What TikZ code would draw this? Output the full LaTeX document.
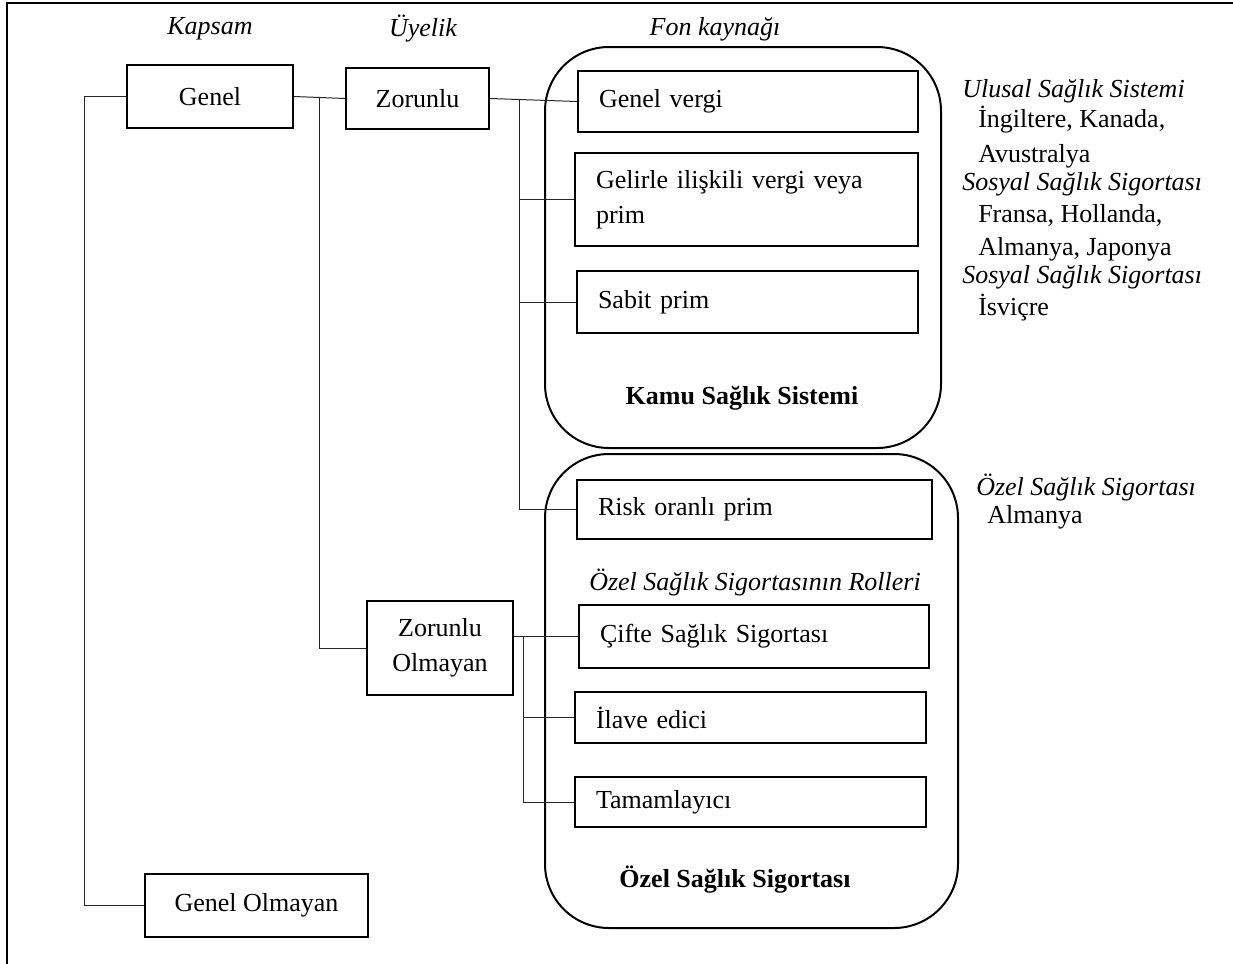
\documentclass[tikz,border=0pt]{standalone}
\usepackage{fontspec}
\setmainfont{Liberation Serif}
\usetikzlibrary{positioning}

\newcommand\yazi{\fontsize{19.5}{23}\selectfont}

\tikzset{
  every node/.style={font=\yazi},
  kutu/.style 2 args={draw, line width=1.5pt, inner sep=0pt, align=center,
    minimum width=#1*0.75pt, minimum height=#2*0.75pt},
  solkutu/.style 2 args={draw, line width=1.5pt, inner ysep=0pt, inner xsep=15.75pt,
    align=left, text width=#1, minimum height=#2*0.75pt},
  baglanti/.style={line width=0.75pt, black!85},
  kabuk/.style={line width=1.5pt, rounded corners=48pt},
  baslik/.style={font=\yazi\itshape},
  sagyazi/.style={anchor=base west, inner sep=0pt},
}

\begin{document}
\begin{tikzpicture}[x=0.75pt,y=0.75pt,yscale=-1,xscale=1]
\useasboundingbox (0,0) rectangle (1233,964);

%Frame
\draw [line width=1.5pt] (7,964) -- (7,3) -- (1233,3) ;

%Rounded groups
\draw [kabuk] (545,47) rectangle (941,448) ;
\draw [kabuk] (545,454) rectangle (958,928) ;

% Text Node
\node [baslik] (kapsam) at (210,29) {Kapsam};
% Text Node
\node [baslik] (uyelik) at (423,29) {Üyelik};
% Text Node
\node [baslik] (fon) at (715,29) {Fon kaynağı};

%Boxes
\node [kutu={166}{63}] (genel) at (210,96.5) {Genel};
\node [kutu={143}{61}] (zorunlu) at (417.5,98.5) {Zorunlu};
\node [kutu={146}{94}] (zolmayan) at (440,648) {Zorunlu\\[3pt]Olmayan};
\node [kutu={223}{63}] (golmayan) at (256.5,905.5) {Genel Olmayan};

\node [solkutu={223.5pt}{61}] (genelvergi) at (748,101.5) {Genel vergi};
\node [solkutu={225.75pt}{93}] (gelirle) at (746.5,199.5) {Gelirle ilişkili vergi veya\\[3pt]prim};
\node [solkutu={224.25pt}{62}] (sabit) at (747.5,302) {Sabit prim};
\node [solkutu={234.75pt}{59}] (risk) at (754.5,509.5) {Risk oranlı prim};
\node [solkutu={231pt}{63}] (cifte) at (754,636.5) {Çifte Sağlık Sigortası};
\node [solkutu={231.75pt}{51}] (ilave) at (750.5,717.5) {İlave edici};
\node [solkutu={231.75pt}{50}] (tamam) at (750.5,802) {Tamamlayıcı};

% Text Node
\node [font=\yazi\bfseries] (kamu) at (742,398) {Kamu Sağlık Sistemi};
% Text Node
\node [font=\yazi\bfseries] (ozel) at (735,880) {Özel Sağlık Sigortası};
% Text Node
\node [baslik] (roller) at (755,582) {Özel Sağlık Sigortasının Rolleri};

%Right column
\node [sagyazi, baslik] (uss) at (962,97) {Ulusal Sağlık Sistemi};
\node [sagyazi] (uss1) at (978,127) {İngiltere, Kanada,};
\node [sagyazi] (uss2) at (978,162) {Avustralya};
\node [sagyazi, baslik] (sss) at (962,190) {Sosyal Sağlık Sigortası};
\node [sagyazi] (sss1) at (978,222) {Fransa, Hollanda,};
\node [sagyazi] (sss2) at (978,255) {Almanya, Japonya};
\node [sagyazi, baslik] (sss3) at (962,283) {Sosyal Sağlık Sigortası};
\node [sagyazi] (sss4) at (978,315) {İsviçre};
\node [sagyazi, baslik] (oss) at (976,495) {Özel Sağlık Sigortası};
\node [sagyazi] (oss1) at (987,523) {Almanya};

%Trunks
\coordinate (kapsamhat) at (84,0);
\coordinate (uyelikhat) at (319,0);
\coordinate (fonhat) at (519,0);
\coordinate (rolhat) at (523,0);

%Connectors
\draw [baglanti] (genel.west) -- (genel.west -| kapsamhat) |- (golmayan.west) ;
\draw [baglanti] (genel.east) -- (zorunlu.west) ;
\draw [baglanti] (genel.east -| uyelikhat) |- (zolmayan.west) ;
\draw [baglanti] (zorunlu.east) -- (genelvergi.west) ;
\draw [baglanti] (zorunlu.east -| fonhat) |- (risk.west) ;
\draw [baglanti] (fonhat |- gelirle.west) -- (gelirle.west) ;
\draw [baglanti] (fonhat |- sabit.west) -- (sabit.west) ;
\draw [baglanti] (cifte.west -| zolmayan.east) -- (cifte.west) ;
\draw [baglanti] (cifte.west -| rolhat) |- (tamam.west) ;
\draw [baglanti] (rolhat |- ilave.west) -- (ilave.west) ;

\end{tikzpicture}
\end{document}
